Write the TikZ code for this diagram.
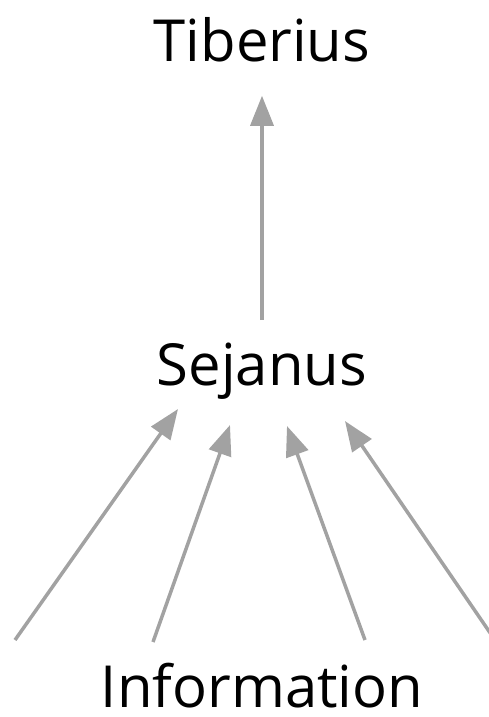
\documentclass[tikz,border=0pt]{standalone}
\usepackage{fontspec}
\setmainfont{Open Sans}
\usetikzlibrary{arrows.meta}
\definecolor{arrowgray}{RGB}{162,162,162}

\begin{document}
\begin{tikzpicture}[
  x=1pt, y=-1pt,
  lbl/.style={inner sep=0pt, anchor=base, font=\fontsize{58}{70}\selectfont},
  arr/.style={-{Triangle[length=30pt, width=23pt]}, draw=arrowgray, line width=3.5pt}
]
\useasboundingbox (0,0) rectangle (489,717);
\node[lbl] (tib) at (262,62) {Tiberius};
\node[lbl] (sej) at (262,385) {Sejanus};
\node[lbl] (inf) at (262,707) {Information};

% free ends below Sejanus
\coordinate (in1) at (15,640);
\coordinate (in2) at (153,642);
\coordinate (in3) at (365,640);
\coordinate (in4) at (495,640);
\coordinate (to1) at (178,409);
\coordinate (to2) at (230,425);
\coordinate (to3) at (287,426);
\coordinate (to4) at (345,421);

\draw[arr, shorten <=22pt, shorten >=33pt] (sej.north) -- (tib.south);
\draw[arr] (in1) -- (to1);
\draw[arr] (in2) -- (to2);
\draw[arr] (in3) -- (to3);
\draw[arr] (in4) -- (to4);
\end{tikzpicture}
\end{document}
